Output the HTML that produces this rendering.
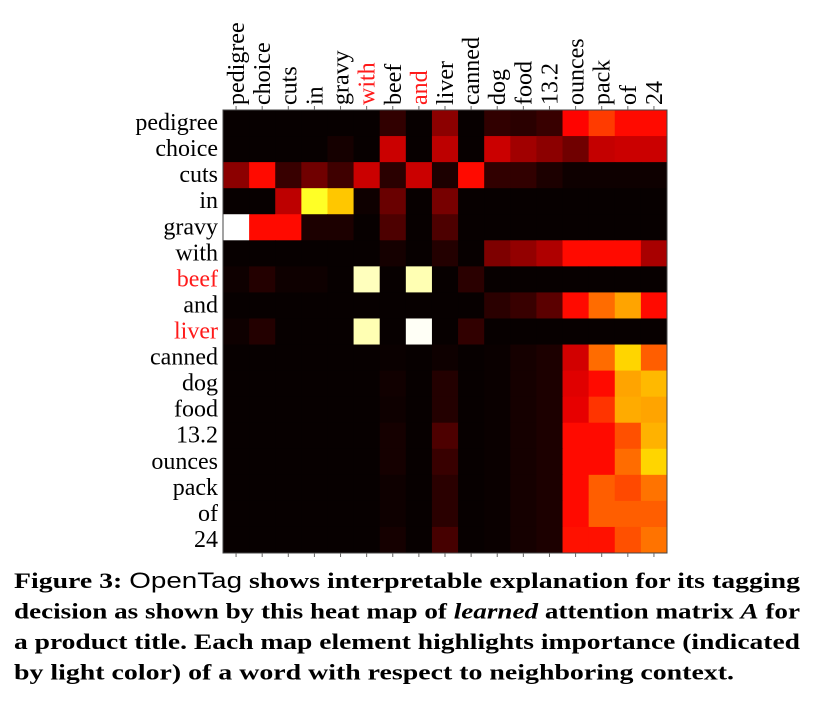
<!DOCTYPE html>
<html><head><meta charset="utf-8"><style>
html,body{margin:0;padding:0;background:#fff;width:814px;height:702px;overflow:hidden}
</style></head><body>
<svg id="chart" width="814" height="702" xmlns="http://www.w3.org/2000/svg" style="font-family:'Liberation Serif',serif"></svg>
<script>
const words = ["pedigree","choice","cuts","in","gravy","with","beef","and","liver","canned","dog","food","13.2","ounces","pack","of","24"];
const redCols = ["with","and"];
const redRows = ["beef","liver"];
const r0 = [.01,.01,.01,.01,.01,.01,.07,.01,.2,.01,.07,.06,.08,.37,.45,.38,.38];
const r1 = [.01,.01,.01,.01,.03,.01,.29,.01,.27,.01,.29,.23,.2,.16,.28,.29,.29];
const r2 = [.2,.38,.08,.16,.09,.29,.06,.29,.04,.38,.07,.07,.04,.02,.02,.02,.02];
const r3 = [.01,.01,.27,.77,.65,.02,.15,.01,.17,.01,.01,.01,.01,.01,.01,.01,.01];
const r4 = [1.0,.38,.38,.04,.04,.01,.11,.01,.11,.01,.01,.01,.01,.01,.01,.01,.01];
const r5 = [.01,.01,.01,.01,.01,.01,.03,.01,.05,.01,.18,.21,.25,.38,.38,.38,.24];
const r6 = [.02,.05,.02,.02,.01,.93,.01,.92,.01,.06,.01,.01,.01,.01,.01,.01,.01];
const r7 = [.01,.01,.01,.01,.01,.01,.01,.01,.01,.01,.06,.08,.13,.38,.52,.6,.38];
const r8 = [.02,.05,.01,.01,.01,.92,.01,.99,.01,.07,.01,.01,.01,.01,.01,.01,.01];
const r9 = [.01,.01,.01,.01,.01,.01,.015,.01,.02,.01,.015,.03,.04,.3,.52,.67,.5];
const r10 = [.01,.01,.01,.01,.01,.01,.025,.01,.05,.01,.015,.03,.04,.32,.38,.6,.63];
const r11 = [.01,.01,.01,.01,.01,.01,.02,.01,.05,.01,.015,.03,.04,.33,.44,.61,.6];
const r12 = [.01,.01,.01,.01,.01,.01,.03,.01,.11,.01,.015,.03,.04,.38,.38,.48,.62];
const r13 = [.01,.01,.01,.01,.01,.01,.03,.01,.08,.01,.015,.03,.04,.38,.38,.52,.67];
const r14 = [.01,.01,.01,.01,.01,.01,.02,.01,.06,.01,.015,.03,.04,.38,.5,.47,.53];
const r15 = [.01,.01,.01,.01,.01,.01,.02,.01,.06,.01,.015,.03,.04,.38,.5,.5,.5];
const r16 = [.01,.01,.01,.01,.01,.01,.03,.01,.1,.01,.015,.03,.04,.39,.39,.48,.53];
const matrix = [r0,r1,r2,r3,r4,r5,r6,r7,r8,r9,r10,r11,r12,r13,r14,r15,r16];
const captionLines = [
 ["Figure 3: ", "OpenTag", " shows interpretable explanation for its tagging"],
 ["decision as shown by this heat map of ", "learned", " attention matrix ", "A", " for"],
 ["a product title. Each map element highlights importance (indicated"],
 ["by light color) of a word with respect to neighboring context."]
];

const svg = document.getElementById('chart');
const NS = "http://www.w3.org/2000/svg";
const X0 = 223, Y0 = 110, W = 444, H = 443;
const n = words.length;
const cw = W / n, ch = H / n;
function xPos(i){ return X0 + i * cw; }
function yPos(i){ return Y0 + i * ch; }
function hot(v){
  const c = x => Math.max(0, Math.min(1, x));
  const r = c(v / 0.365), g = c((v - 0.365) / 0.365), b = c((v - 0.73) / 0.27);
  return `rgb(${Math.round(r*255)},${Math.round(g*255)},${Math.round(b*255)})`;
}
function mk(tag, attrs){ const e = document.createElementNS(NS, tag); for (const k in attrs) e.setAttribute(k, attrs[k]); svg.appendChild(e); return e; }

matrix.forEach((row, ri) => row.forEach((v, ci) => {
  const r = mk('rect', {x: xPos(ci), y: yPos(ri), width: cw + 0.5, height: ch + 0.5, fill: hot(v)});
  
  
}));
const fr = mk('rect', {x: X0, y: Y0, width: W, height: H, fill: 'none', stroke: '#444', 'stroke-width': 1});



words.forEach((w, i) => {
  const cx = xPos(i) + cw / 2;
  const t = mk('text', {x: 0, y: 0, 'font-size': 24, fill: redCols.includes(w) ? '#ff1a1a' : '#000',
    transform: `translate(${cx + 8},${Y0 - 5}) rotate(-90)`});
  t.textContent = w;
  
  
  const tk = mk('line', {x1: cx, x2: cx, y1: Y0 + H, y2: Y0 + H + 4, stroke: '#666'});
  
  
  const tk2 = mk('line', {x1: cx, x2: cx, y1: Y0, y2: Y0 - 4, stroke: '#666'});
  
  
  const rl = mk('text', {x: 218, y: yPos(i) + ch / 2 + 7, 'font-size': 24, 'text-anchor': 'end', fill: redRows.includes(w) ? '#ff1a1a' : '#000'});
  rl.textContent = w;
  
  
});

const lineW = [786, 786, 786, 720];
captionLines.forEach((parts, li) => {
  const t = mk('text', {x: 14, y: 588 + li * 30.5, 'font-size': 22, 'font-weight': 'bold', textLength: lineW[li], lengthAdjust: 'spacingAndGlyphs'});
  
  
  parts.forEach(p => {
    const s = document.createElementNS(NS, 'tspan');
    s.textContent = p;
    if (p === 'OpenTag') { s.setAttribute('font-weight', 'normal'); s.setAttribute('font-family', 'Liberation Sans, sans-serif'); }
    if (p === 'learned' || p === 'A') s.setAttribute('font-style', 'italic');
    t.appendChild(s);
  });
});
</script>
</body></html>
